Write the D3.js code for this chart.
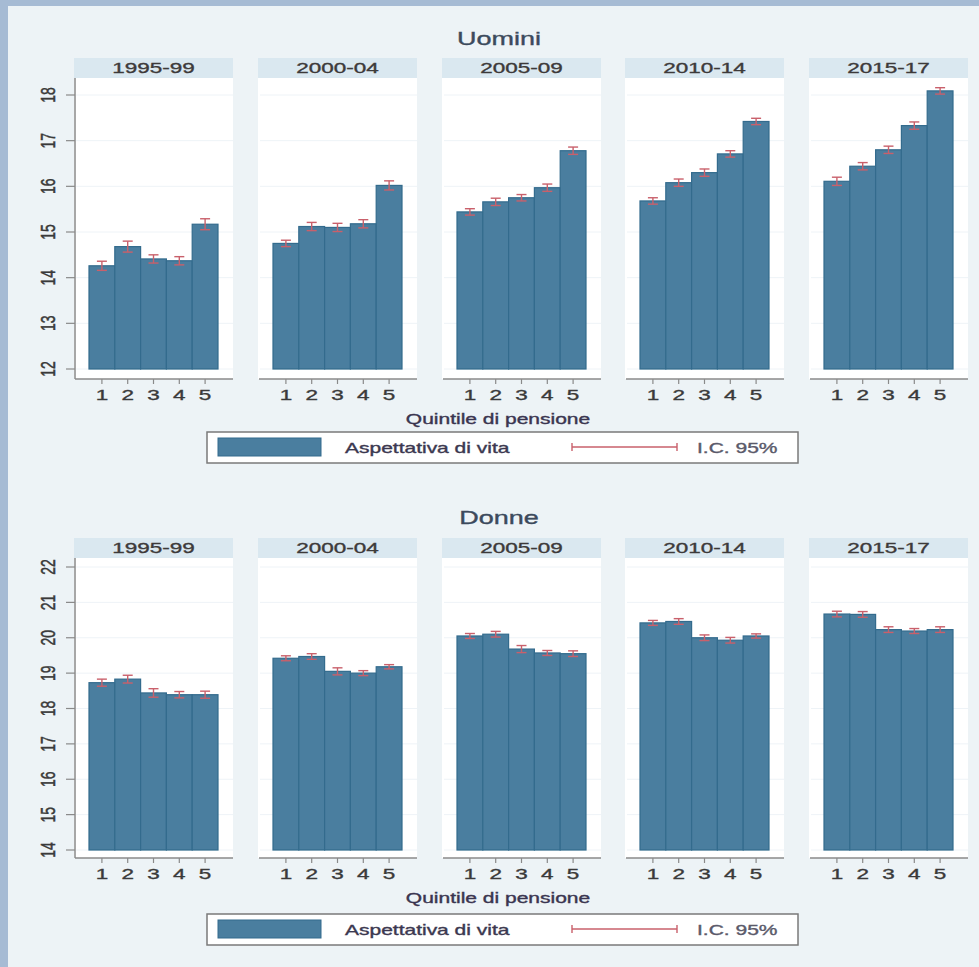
<!DOCTYPE html>
<html>
<head>
<meta charset="utf-8">
<script src="https://cdn.jsdelivr.net/npm/d3@7"></script>
<style>
  body { margin: 0; background: #edf3f6; }
  svg { display: block; }
</style>
</head>
<body>
<div id="chart"></div>
<script>
const periods = ['1995-99', '2000-04', '2005-09', '2010-14', '2015-17'];
const quintiles = [1, 2, 3, 4, 5];

// Uomini: aspettativa di vita per quintile, per periodo
const menValues = [
  [14.26, 14.68, 14.41, 14.37, 15.17],
  [14.75, 15.12, 15.10, 15.18, 16.02],
  [15.44, 15.66, 15.75, 15.97, 16.78],
  [15.68, 16.08, 16.30, 16.71, 17.42],
  [16.11, 16.44, 16.80, 17.33, 18.09]
];
const menCI = [
  [0.10, 0.12, 0.09, 0.09, 0.12],
  [0.07, 0.09, 0.09, 0.09, 0.10],
  [0.07, 0.08, 0.07, 0.08, 0.08],
  [0.07, 0.08, 0.08, 0.07, 0.07],
  [0.09, 0.08, 0.08, 0.08, 0.07]
];
const menTicks = [12, 13, 14, 15, 16, 17, 18];

// Donne
const womenValues = [
  [18.73, 18.83, 18.44, 18.39, 18.39],
  [19.42, 19.47, 19.05, 19.00, 19.18],
  [20.05, 20.10, 19.68, 19.57, 19.55],
  [20.42, 20.46, 20.00, 19.93, 20.05],
  [20.67, 20.66, 20.23, 20.19, 20.23]
];
const womenCI = [
  [0.10, 0.11, 0.12, 0.09, 0.10],
  [0.07, 0.08, 0.10, 0.07, 0.06],
  [0.07, 0.08, 0.10, 0.07, 0.08],
  [0.07, 0.08, 0.08, 0.08, 0.06],
  [0.08, 0.08, 0.08, 0.07, 0.08]
];
const womenTicks = [14, 15, 16, 17, 18, 19, 20, 21, 22];

const xTitle = 'Quintile di pensione';
const legendLabels = ['Aspettativa di vita', 'I.C. 95%'];

const W = 979, H = 967;
const SX = 1.5;              // the picture is stretched horizontally
const FONT = 'Liberation Sans, Arial, sans-serif';
const barColor = '#4a7e9f';
const barEdge = '#336b8d';
const ciColor = '#c9606b';
const textColor = '#3a3a3a';

const panelX = [74, 258, 442, 625, 809];
const panelW = 159;

const svg = d3.select('#chart')
  .append('svg')
  .attr('width', W)
  .attr('height', H);

svg.append('rect').attr('width', W).attr('height', H).attr('fill', '#edf3f6');
svg.append('rect').attr('width', 8).attr('height', H).attr('fill', '#a6bbd4');
svg.append('rect').attr('width', W).attr('height', 6).attr('fill', '#a6bbd4');

function stext(g, x, y, str, size, anchor, color) {
  return g.append('text')
    .attr('transform', 'translate(' + x + ',' + y + ') scale(' + SX + ',1)')
    .attr('text-anchor', anchor || 'middle')
    .attr('font-family', FONT)
    .attr('font-size', size + 'px')
    .attr('fill', color || textColor)
    .attr('stroke', color || textColor)
    .attr('stroke-width', 0.35)
    .text(str);
}

function drawChart(cfg) {
  const g = svg.append('g');

  stext(g, 499, cfg.titleY, cfg.title, 18, 'middle', '#3c4a5c');

  const yScale = d3.scaleLinear()
    .domain([cfg.ticks[0], cfg.ticks[cfg.ticks.length - 1]])
    .range([cfg.yBottom, cfg.yTopTick]);

  periods.forEach(function(p, i) {
    const x0 = panelX[i];
    const pg = g.append('g');

    // strip
    pg.append('rect')
      .attr('x', x0).attr('y', cfg.stripY)
      .attr('width', panelW).attr('height', 20)
      .attr('fill', '#dae8f0');
    stext(pg, x0 + panelW / 2, cfg.stripY + 15, p, 15, 'middle', '#3d3a3a');

    // plot region
    pg.append('rect')
      .attr('x', x0).attr('y', cfg.stripY + 20)
      .attr('width', panelW).attr('height', cfg.axisY - cfg.stripY - 20)
      .attr('fill', '#ffffff');

    pg.selectAll('line.grid')
      .data(cfg.ticks)
      .enter()
      .append('line')
      .attr('class', 'grid')
      .attr('x1', x0 + 2).attr('x2', x0 + panelW)
      .attr('y1', function(d) { return yScale(d); })
      .attr('y2', function(d) { return yScale(d); })
      .attr('stroke', '#eef3f7')
      .attr('stroke-width', 1);

    const xScale = d3.scaleBand()
      .domain(quintiles)
      .range([x0 + 15, x0 + 144])
      .padding(0);

    pg.selectAll('rect.bar')
      .data(cfg.values[i])
      .enter()
      .append('rect')
      .attr('class', 'bar')
      .attr('x', function(d, j) { return xScale(quintiles[j]); })
      .attr('y', function(d) { return yScale(d); })
      .attr('width', xScale.bandwidth())
      .attr('height', function(d) { return yScale(cfg.ticks[0]) - yScale(d); })
      .attr('fill', barColor)
      .attr('stroke', barEdge)
      .attr('stroke-width', 1.2);

    // error bars
    const ci = cfg.ci[i];
    const eb = pg.selectAll('g.eb')
      .data(cfg.values[i])
      .enter()
      .append('g')
      .attr('class', 'eb')
      .attr('stroke', ciColor)
      .attr('stroke-width', 1.4);
    eb.append('line')
      .attr('x1', function(d, j) { return xScale(quintiles[j]) + xScale.bandwidth() / 2; })
      .attr('x2', function(d, j) { return xScale(quintiles[j]) + xScale.bandwidth() / 2; })
      .attr('y1', function(d, j) { return yScale(d + ci[j]); })
      .attr('y2', function(d, j) { return yScale(d - ci[j]); });
    [1, -1].forEach(function(s) {
      eb.append('line')
        .attr('x1', function(d, j) { return xScale(quintiles[j]) + xScale.bandwidth() / 2 - 5; })
        .attr('x2', function(d, j) { return xScale(quintiles[j]) + xScale.bandwidth() / 2 + 5; })
        .attr('y1', function(d, j) { return yScale(d + s * ci[j]); })
        .attr('y2', function(d, j) { return yScale(d + s * ci[j]); });
    });

    // x axis
    pg.append('line')
      .attr('x1', x0 + 1).attr('x2', x0 + panelW)
      .attr('y1', cfg.axisY).attr('y2', cfg.axisY)
      .attr('stroke', '#8a8a8a').attr('stroke-width', 1.5);
    quintiles.forEach(function(q) {
      const cx = xScale(q) + xScale.bandwidth() / 2;
      pg.append('line')
        .attr('x1', cx).attr('x2', cx)
        .attr('y1', cfg.axisY).attr('y2', cfg.axisY + 5)
        .attr('stroke', '#8a8a8a').attr('stroke-width', 1.2);
      stext(pg, cx, cfg.axisY + 21, String(q), 15, 'middle', textColor);
    });

    // y axis on first panel
    if (i === 0) {
      pg.append('line')
        .attr('x1', x0 + 1).attr('x2', x0 + 1)
        .attr('y1', cfg.stripY + 20).attr('y2', cfg.axisY)
        .attr('stroke', '#8a8a8a').attr('stroke-width', 1.5);
      cfg.ticks.forEach(function(t) {
        pg.append('line')
          .attr('x1', x0 - 8).attr('x2', x0 + 1)
          .attr('y1', yScale(t)).attr('y2', yScale(t))
          .attr('stroke', '#8a8a8a').attr('stroke-width', 1.2);
        pg.append('text')
          .attr('transform', 'translate(' + (x0 - 19) + ',' + yScale(t) + ') scale(' + SX + ',1) rotate(-90)')
          .attr('text-anchor', 'middle')
          .attr('font-family', FONT)
          .attr('font-size', '14px')
          .attr('fill', textColor)
          .attr('stroke', textColor)
          .attr('stroke-width', 0.35)
          .text(t);
      });
    }
  });

  stext(g, 498, cfg.xTitleY, xTitle, 14, 'middle', '#3a3550');

  // legend
  const lg = g.append('g');
  lg.append('rect')
    .attr('x', 207).attr('y', cfg.legendY)
    .attr('width', 591).attr('height', 31)
    .attr('fill', '#ffffff')
    .attr('stroke', '#7a7a7a').attr('stroke-width', 1.5);
  lg.append('rect')
    .attr('x', 218).attr('y', cfg.legendY + 6)
    .attr('width', 103).attr('height', 18)
    .attr('fill', barColor).attr('stroke', barEdge);
  stext(lg, 345, cfg.legendY + 21, legendLabels[0], 14, 'start', '#3b3850');
  const ly = cfg.legendY + 15;
  lg.append('line').attr('x1', 572).attr('x2', 677).attr('y1', ly).attr('y2', ly)
    .attr('stroke', ciColor).attr('stroke-width', 1.4);
  [572, 677].forEach(function(x) {
    lg.append('line').attr('x1', x).attr('x2', x).attr('y1', ly - 4).attr('y2', ly + 4)
      .attr('stroke', ciColor).attr('stroke-width', 1.4);
  });
  stext(lg, 697, cfg.legendY + 21, legendLabels[1], 14, 'start', '#5a5a6a');
}

drawChart({
  title: 'Uomini', titleY: 45,
  values: menValues, ci: menCI, ticks: menTicks,
  stripY: 58, axisY: 379, yBottom: 369, yTopTick: 95,
  xTitleY: 424, legendY: 432
});

drawChart({
  title: 'Donne', titleY: 524,
  values: womenValues, ci: womenCI, ticks: womenTicks,
  stripY: 538, axisY: 858, yBottom: 850, yTopTick: 567,
  xTitleY: 903, legendY: 914
});
</script>
</body>
</html>
